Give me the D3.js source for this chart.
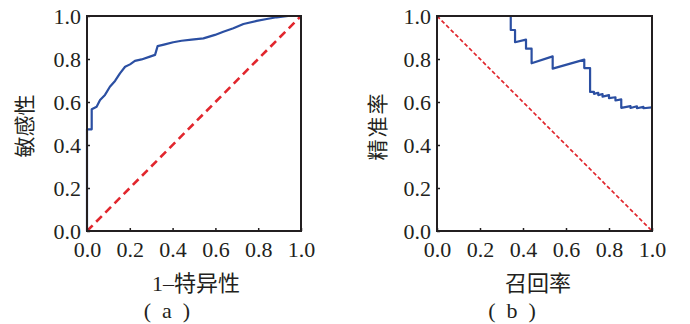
<!DOCTYPE html>
<html><head><meta charset="utf-8">
<script src="https://cdn.jsdelivr.net/npm/d3@7"></script>
</head>
<body style="margin:0;background:#fff">
<svg id="c" width="690" height="324"></svg>
<script>
// ROC curve (a): [1-specificity, sensitivity]
const rocFpr = [0, 0, 0.022, 0.022, 0.045, 0.061, 0.084, 0.107, 0.131, 0.154, 0.178, 0.201, 0.224, 0.255, 0.294, 0.318, 0.330, 0.364, 0.403, 0.442, 0.489, 0.544, 0.598, 0.637, 0.684, 0.731, 0.793, 0.840, 0.886, 0.94, 1.0];
const rocTpr = [0, 0.473, 0.473, 0.566, 0.578, 0.609, 0.633, 0.671, 0.698, 0.733, 0.764, 0.775, 0.791, 0.798, 0.811, 0.819, 0.860, 0.868, 0.878, 0.885, 0.890, 0.896, 0.912, 0.927, 0.943, 0.963, 0.977, 0.986, 0.994, 1.0, 1.0];
// PR curve (b): [recall, precision]
const prRecall = [0.343, 0.343, 0.363, 0.363, 0.414, 0.414, 0.44, 0.44, 0.538, 0.538, 0.685, 0.685, 0.712, 0.712, 0.73, 0.73, 0.75, 0.75, 0.77, 0.77, 0.80, 0.80, 0.83, 0.83, 0.857, 0.857, 0.90, 0.90, 0.93, 0.93, 0.96, 0.96, 1.0];
const prPrecision = [1.0, 0.935, 0.935, 0.878, 0.890, 0.848, 0.848, 0.780, 0.812, 0.755, 0.797, 0.758, 0.758, 0.647, 0.647, 0.638, 0.643, 0.632, 0.637, 0.625, 0.632, 0.618, 0.622, 0.607, 0.612, 0.573, 0.581, 0.572, 0.580, 0.571, 0.577, 0.571, 0.575];
const tickValues = [0, 0.2, 0.4, 0.6, 0.8, 1.0];
const panels = [
  {xlabelNum: "1\u2013", xlabel: "特异性", ylabel: "敏感性", tag: "a"},
  {xlabelNum: "", xlabel: "召回率", ylabel: "精准率", tag: "b"}
];

const SERIF = "Liberation Serif";
const CJK = "Noto Sans CJK SC";
const INK = "#231f20";
const svg = d3.select("#c");
const layout = [
  {x0: 87, x1: 301, ylx: 24, tagx: 167, xlx: 196},
  {x0: 437, x1: 652, ylx: 377, tagx: 512, xlx: 538}
];
const yTop = 16, yBot = 231;

layout.forEach((L, i) => {
  const x = d3.scaleLinear().domain([0, 1]).range([L.x0, L.x1]);
  const y = d3.scaleLinear().domain([0, 1]).range([yBot, yTop]);
  const g = svg.append("g");

  const diag = i === 0 ? [[0,0],[1,1]] : [[0,1],[1,0]];
  g.append("path")
    .attr("d", d3.line().x(d => x(d[0])).y(d => y(d[1]))(diag))
    .attr("fill", "none").attr("stroke", "#e1262d")
    .attr("stroke-width", i === 0 ? 2.6 : 1.7)
    .attr("stroke-dasharray", i === 0 ? "8,5" : "4,2.5");

  const pts = i === 0 ? rocFpr.map((v, k) => [v, rocTpr[k]]) : prRecall.map((v, k) => [v, prPrecision[k]]);
  g.append("path")
    .attr("d", d3.line().x(d => x(d[0])).y(d => y(d[1]))(pts))
    .attr("fill", "none").attr("stroke", "#2b4fa2")
    .attr("stroke-width", 2.2).attr("stroke-linejoin", "round");

  const xa = g.append("g").attr("transform", `translate(0,${yBot})`)
    .call(d3.axisBottom(x).tickValues(tickValues).tickFormat(d3.format(".1f")).tickSizeInner(-3).tickSizeOuter(0).tickPadding(9));
  const ya = g.append("g").attr("transform", `translate(${L.x0},0)`)
    .call(d3.axisLeft(y).tickValues(tickValues).tickFormat(d3.format(".1f")).tickSizeInner(-3).tickSizeOuter(0).tickPadding(6));
  [xa, ya].forEach(a => {
    a.attr("font-family", SERIF).attr("font-size", 22);
    a.select(".domain").remove();
    a.selectAll("line").attr("stroke", INK).attr("stroke-width", 1.5);
    a.selectAll("text").attr("fill", INK);
  });
  xa.selectAll("text").attr("dy", "0.78em");
  ya.selectAll("text").attr("dy", "0.34em");

  g.append("rect").attr("x", L.x0).attr("y", yTop)
    .attr("width", L.x1 - L.x0).attr("height", yBot - yTop)
    .attr("fill", "none").attr("stroke", INK).attr("stroke-width", 2);

  const xl = g.append("text").attr("x", L.xlx).attr("y", 291).attr("text-anchor", "middle")
    .attr("font-size", 22).attr("fill", INK).attr("font-family", CJK);
  if (panels[i].xlabelNum) xl.append("tspan").attr("font-family", SERIF).text(panels[i].xlabelNum);
  xl.append("tspan").attr("font-family", CJK).text(panels[i].xlabel);

  g.append("text").attr("transform", `translate(${L.ylx + 8},126) rotate(-90)`)
    .attr("text-anchor", "middle").attr("font-family", CJK).attr("font-size", 21).attr("fill", INK)
    .attr("letter-spacing", i === 1 ? 2 : 0)
    .text(panels[i].ylabel);

  g.append("text").attr("x", L.tagx).attr("y", 318).attr("text-anchor", "middle")
    .attr("font-size", 22).attr("fill", INK).attr("font-family", SERIF)
    .attr("xml:space", "preserve").style("white-space", "pre")
    .text("(\u2002" + panels[i].tag + "\u2002)");
});
</script>
</body></html>
